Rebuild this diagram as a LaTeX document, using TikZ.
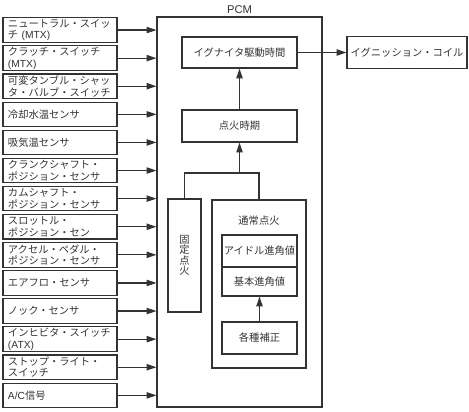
\documentclass[tikz,border=0pt]{standalone}
\usepackage{fontspec}
\setmainfont{Noto Sans CJK JP}
\newfontfamily\lat{Liberation Sans}
\usetikzlibrary{positioning, arrows.meta}

\begin{document}
\begin{tikzpicture}[
  line width=0.8pt, color=black!80,
  every node/.style={font=\fontsize{7.3pt}{8.3pt}\selectfont},
  inbox/.style={draw, align=left, text width=2.6cm, inner xsep=0.125cm,
    inner ysep=0pt, minimum height=0.6125cm},
  blockbox/.style={draw, align=center, inner sep=0pt},
  arr/.style={-{Triangle[length=7pt, width=4.5pt]}},
]

% 全体の大きさ（469x411 に合わせる）
\useasboundingbox (0, 0) rectangle (11.725, 10.275);

% PCM 本体
\node[draw, minimum width=4.125cm, minimum height=9.75cm, inner sep=0pt] (pcm) at (5.9875, 4.975) {};
\node[above=0.05cm of pcm, inner sep=0pt, font=\lat\fontsize{8pt}{9pt}\selectfont] (pcmlabel) {PCM};

% 入力信号（左列）
\node[inbox] (neutral) at (1.5, 9.524) {ニュートラル・スイッ\\チ {\lat (MTX)}};
\node[inbox] (clutch) at (1.5, 8.821) {クラッチ・スイッチ\\{\lat (MTX)}};
\node[inbox] (tumble) at (1.5, 8.119) {可変タンブル・シャッ\\タ・バルブ・スイッチ};
\node[inbox] (coolant) at (1.5, 7.416) {冷却水温センサ};
\node[inbox] (intake) at (1.5, 6.714) {吸気温センサ};
\node[inbox] (crank) at (1.5, 6.011) {クランクシャフト・\\ポジション・センサ};
\node[inbox] (cam) at (1.5, 5.309) {カムシャフト・\\ポジション・センサ};
\node[inbox] (throttle) at (1.5, 4.606) {スロットル・\\ポジション・セン};
\node[inbox] (accel) at (1.5, 3.904) {アクセル・ペダル・\\ポジション・センサ};
\node[inbox] (airflow) at (1.5, 3.201) {エアフロ・センサ};
\node[inbox] (knock) at (1.5, 2.499) {ノック・センサ};
\node[inbox] (inhibitor) at (1.5, 1.796) {インヒビタ・スイッチ\\{\lat (ATX)}};
\node[inbox] (stoplamp) at (1.5, 1.094) {ストップ・ライト・\\スイッチ};
\node[inbox] (aircon) at (1.5, 0.391) {{\lat A/C}信号};

% 入力 → PCM
\draw[arr] (neutral.east) -- (neutral -| pcm.west);
\draw[arr] (clutch.east) -- (clutch -| pcm.west);
\draw[arr] (tumble.east) -- (tumble -| pcm.west);
\draw[arr] (coolant.east) -- (coolant -| pcm.west);
\draw[arr] (intake.east) -- (intake -| pcm.west);
\draw[arr] (crank.east) -- (crank -| pcm.west);
\draw[arr] (cam.east) -- (cam -| pcm.west);
\draw[arr] (throttle.east) -- (throttle -| pcm.west);
\draw[arr] (accel.east) -- (accel -| pcm.west);
\draw[arr] (airflow.east) -- (airflow -| pcm.west);
\draw[arr] (knock.east) -- (knock -| pcm.west);
\draw[arr] (inhibitor.east) -- (inhibitor -| pcm.west);
\draw[arr] (stoplamp.east) -- (stoplamp -| pcm.west);
\draw[arr] (aircon.east) -- (aircon -| pcm.west);

% 上段：駆動時間と点火時期
\node[blockbox, minimum width=2.875cm, minimum height=0.775cm] (igniter) at (5.9875, 8.9625) {イグナイタ駆動時間};
\node[blockbox, minimum width=3.0cm, minimum height=0.8cm] (coil) at (10.175, 8.9625) {イグニッション・コイル};
\node[blockbox, minimum width=2.875cm, minimum height=0.8cm] (timing) at (5.9875, 7.125) {点火時期};

\draw[arr] (igniter.east) -- (coil.west);
\draw[arr] (timing.north) -- (igniter.south);

% 固定点火（縦書き）
\node[blockbox, minimum width=0.825cm, minimum height=2.825cm,
  font=\fontsize{7.3pt}{7.4pt}\selectfont] (fixed) at (4.6125, 3.8875) {固\\定\\点\\火};

% 通常点火
\node[blockbox, minimum width=2.35cm, minimum height=4.2cm] (normal) at (6.475, 3.175) {};
\node (normallabel) at (6.475, 4.75) {通常点火};
\node[blockbox, minimum width=1.875cm, minimum height=0.8cm] (idle) at (6.4875, 4.0) {アイドル進角値};
\node[blockbox, minimum width=1.875cm, minimum height=0.725cm] (base) at (6.4875, 3.2375) {基本進角値};
\node[blockbox, minimum width=1.875cm, minimum height=0.8cm] (corr) at (6.4875, 1.825) {各種補正};

\draw[arr] (corr.north) -- (base.south);

% 分岐線：固定点火／通常点火 → 点火時期
\coordinate (split) at (timing.south |- 0, 5.95);
\draw (fixed.north) |- (split) -| (normal.north);
\draw[arr] (split) -- (timing.south);

\end{tikzpicture}
\end{document}
